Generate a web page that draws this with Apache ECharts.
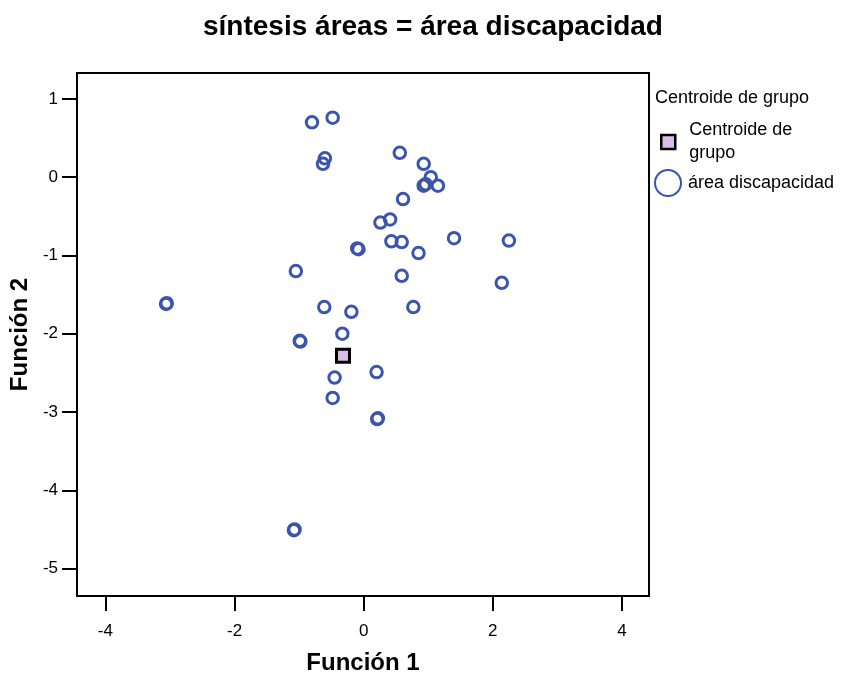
<!DOCTYPE html>
<html>
<head>
<meta charset="utf-8">
<script src="https://cdn.jsdelivr.net/npm/echarts@6/dist/echarts.min.js"></script>
<style>html,body{margin:0;padding:0;background:#fff}#c{width:843px;height:675px}</style>
</head>
<body>
<div id="c"></div>
<script>
var titleText = 'síntesis áreas = área discapacidad';
var xName = 'Función 1';
var yName = 'Función 2';
var xTicks = [-4, -2, 0, 2, 4];
var yTicks = [1, 0, -1, -2, -3, -4, -5];
var groupPoints = [
  [-0.80, 0.70], [-0.48, 0.76], [-0.60, 0.24], [-0.63, 0.17],
  [0.56, 0.31], [0.93, 0.17], [1.04, 0.00], [0.93, -0.11], [0.96, -0.09],
  [1.15, -0.11], [0.61, -0.28], [0.26, -0.58], [0.41, -0.54],
  [0.43, -0.82], [0.59, -0.83], [-0.10, -0.91], [-0.08, -0.92],
  [0.85, -0.97], [1.40, -0.78], [2.25, -0.81], [0.59, -1.26],
  [-1.05, -1.20], [-3.06, -1.62], [-3.05, -1.61], [2.14, -1.35],
  [-0.61, -1.66], [-0.19, -1.72], [0.77, -1.66], [-0.33, -2.00],
  [-0.99, -2.09], [-0.98, -2.10], [0.20, -2.49], [-0.45, -2.56],
  [-0.48, -2.82], [0.21, -3.09], [0.22, -3.08], [-1.08, -4.51], [-1.07, -4.50]
];
var centroid = [[-0.32, -2.28]];
var seriesNames = ['Centroide de grupo', 'área discapacidad'];
var legendTitle = 'Centroide de grupo';

var blue = '#3b55ad';
var font = 'Liberation Sans, Arial, sans-serif';
var chart = echarts.init(document.getElementById('c'));
chart.setOption({
  backgroundColor: '#fff',
  animation: false,
  title: [{
    text: titleText, left: 198, top: 8,
    textStyle: {fontFamily: font, fontSize: 28, fontWeight: 'bold', color: '#000'}
  }, {
    text: legendTitle, left: 650, top: 84,
    textStyle: {fontFamily: font, fontSize: 18, fontWeight: 'normal', color: '#000'}
  }],
  grid: {left: 77, right: 194, top: 73, bottom: 79, show: true, borderColor: '#000', borderWidth: 2,
         backgroundColor: 'transparent', containLabel: false, outerBoundsMode: 'none'},
  legend: [{
    data: [seriesNames[0]], orient: 'vertical', left: 655, top: 114,
    itemWidth: 14, itemHeight: 14,
    itemStyle: {borderWidth: 2.5},
    formatter: function () { return 'Centroide de\ngrupo'; },
    textStyle: {fontFamily: font, fontSize: 18, color: '#000', lineHeight: 23, padding: [0, 0, 0, 9]}
  }, {
    data: [seriesNames[1]], orient: 'vertical', left: 649, top: 164,
    itemWidth: 26, itemHeight: 26,
    itemStyle: {borderWidth: 2},
    textStyle: {fontFamily: font, fontSize: 18, color: '#000', padding: [0, 0, 0, 2]}
  }],
  xAxis: {
    type: 'value', min: -4.44, max: 4.42,
    name: xName, nameLocation: 'middle', nameGap: 55,
    nameTextStyle: {fontFamily: font, fontSize: 24, fontWeight: 'bold', color: '#000'},
    splitLine: {show: false},
    axisLine: {show: true, onZero: false, lineStyle: {color: '#000', width: 2}},
    axisTick: {show: true, inside: false, length: 15, lineStyle: {color: '#000', width: 2}, customValues: xTicks},
    axisLabel: {fontFamily: font, fontSize: 17, color: '#000', margin: 27, customValues: xTicks}
  },
  yAxis: {
    type: 'value', min: -5.35, max: 1.33,
    name: yName, nameLocation: 'middle', nameGap: 45,
    nameTextStyle: {fontFamily: font, fontSize: 24, fontWeight: 'bold', color: '#000'},
    splitLine: {show: false},
    axisLine: {show: true, onZero: false, lineStyle: {color: '#000', width: 2}},
    axisTick: {show: true, inside: false, length: 15, lineStyle: {color: '#000', width: 2}, customValues: yTicks},
    axisLabel: {fontFamily: font, fontSize: 17, color: '#000', margin: 19, customValues: yTicks}
  },
  series: [{
    name: seriesNames[0], type: 'scatter', data: centroid, z: 3,
    symbol: 'rect', symbolSize: 13,
    itemStyle: {color: '#d9bde9', borderColor: '#000', borderWidth: 3, opacity: 1}
  }, {
    name: seriesNames[1], type: 'scatter', data: groupPoints, z: 2,
    symbol: 'circle', symbolSize: 11.5,
    itemStyle: {color: 'rgba(255,255,255,0)', borderColor: blue, borderWidth: 3, opacity: 1}
  }]
});
</script>
</body>
</html>
